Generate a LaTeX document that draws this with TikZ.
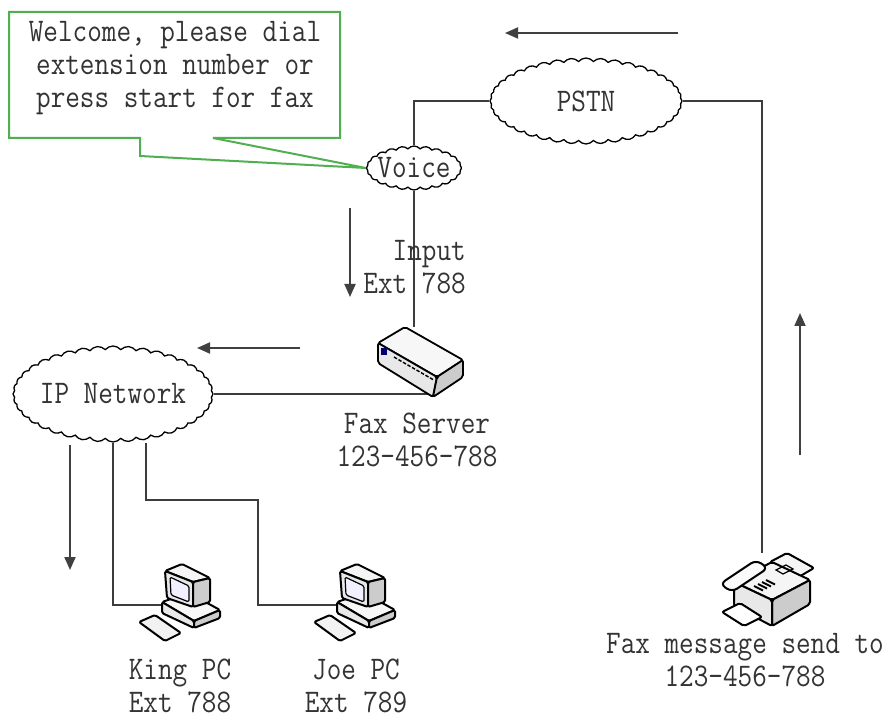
\documentclass[tikz,border=0pt]{standalone}
\usepackage{fontspec}
\setmainfont{Latin Modern Mono}[FakeStretch=0.86]
\usetikzlibrary{arrows,arrows.meta,shapes.symbols,backgrounds}
\definecolor{calloutgreen}{RGB}{80,175,80}
\definecolor{wiregray}{RGB}{60,60,60}

\tikzset{
servericon/.pic={
\begin{scope}[line width=1.8pt, line join=round, rounded corners=2pt]
\filldraw[fill=gray!6] (-42,-19) -- (-15,-35) -- (43,-2) -- (17,15) -- cycle;
\filldraw[fill=gray!18] (-42,-19) -- (17,15) -- (13,35) -- (-42,1) -- cycle;
\filldraw[fill=gray!40] (17,15) -- (43,-2) -- (43,15) -- (13,35) -- cycle;
\end{scope}
\fill[blue!45!black] (-39,-14) rectangle (-33,-7);
\foreach \k in {0,...,8} \draw[line width=1.4pt] (-26+4.5*\k,-5+2.6*\k) -- ++(3,1.8);
},
pcicon/.pic={
\begin{scope}[line width=2pt, line join=round, rounded corners=1.5pt]
% base
\filldraw[fill=gray!6] (-24,-3) -- (3,-12) -- (34,5) -- (8,16) -- cycle;
\filldraw[fill=gray!18] (-24,-3) -- (8,16) -- (8,23) -- (-24,8) -- cycle;
\filldraw[fill=gray!40] (8,16) -- (34,5) -- (34,13) -- (8,23) -- cycle;
% monitor
\filldraw[fill=gray!8] (-21,-34) -- (-4,-41) -- (24,-27) -- (7,-23) -- cycle;
\filldraw[fill=gray!18] (-21,-34) -- (7,-23) -- (7,2) -- (-19,-7) -- cycle;
\filldraw[fill=gray!40] (7,-23) -- (24,-27) -- (24,-3) -- (7,2) -- cycle;
\filldraw[fill=blue!6, line width=1.2pt] (-16,-28) -- (3,-19) -- (3,-3) -- (-15,-10) -- cycle;
% keyboard
\filldraw[fill=gray!10] (-47,17) -- (-31,10) -- (-5,28) -- (-21,36) -- cycle;
\end{scope}
},
faxicon/.pic={
\begin{scope}[line width=2pt, line join=round, rounded corners=2pt]
\filldraw[fill=gray!8] (8,-28) -- (25,-37) -- (52,-22) -- (35,-12) -- cycle;
\filldraw[fill=gray!8] (-28,-8) -- (10,-28) -- (48,-10) -- (10,10) -- cycle;
\filldraw[fill=gray!40] (10,10) -- (48,-10) -- (48,14) -- (10,36) -- cycle;
\filldraw[fill=gray!18] (-28,-8) -- (10,10) -- (10,36) -- (-28,16) -- cycle;
\filldraw[fill=gray!4, rounded corners=6pt] (-42,-6) -- (-6,-30) -- (6,-22) -- (-30,2) -- cycle;
\filldraw[fill=white] (-40,22) -- (-22,13) -- (0,27) -- (-18,36) -- cycle;
\end{scope}
\foreach \k in {0,...,3} \draw[line width=2pt] (-8+4*\k,-4-2*\k) -- ++(9,4.5);
\draw[line width=1.2pt] (14,-20) -- (24,-25) -- (31,-21) -- (21,-16) -- cycle;
}
}

\begin{document}
\begin{tikzpicture}[x=1pt, y=-1pt, font=\fontsize{33}{33}\selectfont]
\tikzstyle{net} = [cloud, draw=black, line width=1.3pt, fill=white, cloud puffs=40,
cloud puff arc=100, cloud ignores aspect, inner sep=0pt]
\tikzstyle{device} = [minimum width=46pt, minimum height=70pt, inner sep=0pt]
\tikzstyle{caption} = [align=center, text=black!80, inner sep=0pt]
\tikzstyle{wire} = [draw=wiregray, line width=1.6pt]
\tikzstyle{flow} = [draw=black!75, line width=1.8pt, -{Triangle[length=13pt,width=11pt]}]
\useasboundingbox (0,0) rectangle (889,719);

% networks
\node[net, minimum width=200pt, minimum height=96pt, label={[text=black!80]center:IP Network}] (ip) at (113,394) {};
\node[net, minimum width=192pt, minimum height=86pt, label={[text=black!80]center:PSTN}] (pstn) at (586,101) {};
\node[net, cloud puffs=24, minimum width=95pt, minimum height=44pt, label={[text=black!80]center:Voice}] (voice) at (414,168) {};

% welcome message
\draw[calloutgreen, line width=2pt, fill=white] (9,12) -- (340,12) -- (340,138) -- (213,138)
  -- (voice.west) -- (140,156) -- (140,138) -- (9,138) -- cycle;
\node[caption] (msg) at (175,68) {Welcome, please dial\\extension number or\\press start for fax};

% devices
\node[device, minimum width=86pt] (server) at (420,362) {};
\node[device] (king) at (186,605) {};
\node[device] (joe) at (361,605) {};
\node[device, minimum height=74pt] (faxm) at (762,590) {};

\begin{scope}[on background layer]
\path[wire] (pstn.west) -| (voice.north);
\path[wire] (voice.south) -- (voice.south |- server.north);
\path[wire] (pstn.east) -| (faxm.north);
\path[wire] (ip.east) -- ([xshift=10pt]ip.east -| server);
\path[wire] (ip.south) |- (king.west);
\path[wire] (ip.south) ++(33,0) |- (258,500) |- (joe.west);
\end{scope}

\pic at (server) {servericon};
\pic at (king) {pcicon};
\pic at (joe) {pcicon};
\pic at (faxm) {faxicon};

% labels
\node[caption, anchor=east, align=right] (input) at (466,267) {Input\\Ext 788};
\node[caption] (srvtext) at (417,440) {Fax Server\\123-456-788};
\node[caption] (kingtext) at (180,686) {King PC\\Ext 788};
\node[caption] (joetext) at (356,686) {Joe PC\\Ext 789};
\node[caption] (faxtext) at (745,660) {Fax message send to\\123-456-788};

% direction arrows
\coordinate (top1) at (678,33);   \coordinate (top2) at (505,33);
\coordinate (mid1) at (350,208);  \coordinate (mid2) at (350,297);
\coordinate (ipa1) at (300,348);  \coordinate (ipa2) at (197,348);
\coordinate (up1) at (800,455);   \coordinate (up2) at (800,313);
\coordinate (dn1) at (70,445);    \coordinate (dn2) at (70,570);
\draw[flow] (top1) -- (top2);
\draw[flow] (mid1) -- (mid2);
\draw[flow] (ipa1) -- (ipa2);
\draw[flow] (up1) -- (up2);
\draw[flow] (dn1) -- (dn2);
\end{tikzpicture}
\end{document}
